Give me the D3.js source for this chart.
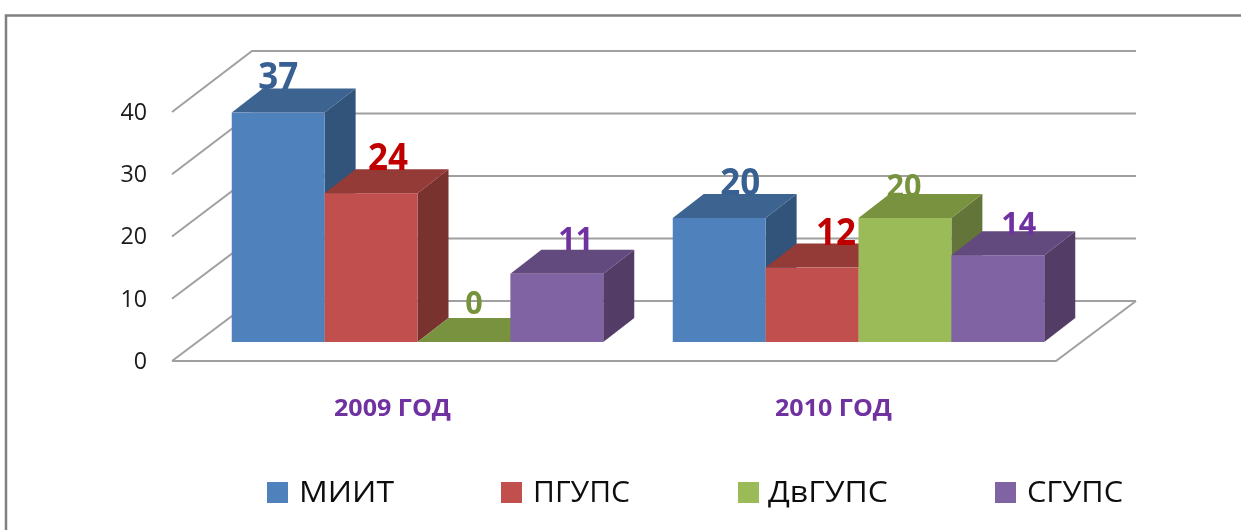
<!DOCTYPE html>
<html>
<head>
<meta charset="utf-8">
<script src="https://cdn.jsdelivr.net/npm/d3@7"></script>
<style>
  html, body { margin: 0; padding: 0; background: #fff; overflow: hidden; }
  text { font-family: "Open Sans", sans-serif; }
</style>
</head>
<body>
<div id="viz"></div>
<script>
// chart data
var years = ["2009 ГОД", "2010 ГОД"];
var schools = ["МИИТ", "ПГУПС", "ДвГУПС", "СГУПС"];
var miit = [37, 20];
var pgups = [24, 12];
var dvgups = [0, 20];
var sgups = [11, 14];
var yTicks = [0, 10, 20, 30, 40];

// colours per school
var frontColors = ["#4f81bd", "#c0504d", "#9bbb59", "#8064a2"];
var topColors = ["#3c6390", "#943a38", "#78923f", "#624a7e"];
var sideColors = ["#32527a", "#7a302e", "#647537", "#523e66"];
var labelColors = ["#376092", "#c00000", "#77933c", "#7030a0"];
var labelSizes = [37, 37, 33, 33];
var labelDigitWidth = [20, 20, 17.5, 17.5];

// the labels were dragged by hand in the original, so they need nudging: [dx, dy] per bar
var labelNudge = [
	[[0, 0], [17, 1], [10, -4], [19, 0]],
	[[21, 1], [24, 1], [-1, 3], [21, 4]]
];
var legendX = [267, 501, 738, 995];
var legendTextWidth = [95, 97, 120, 96];

var width = 1241, height = 530;
var depthX = 31, depthY = 24;

var svg = d3.select("#viz")
	.append("svg")
		.attr("width", width)
		.attr("height", height)
		.style("display", "block");

// the source is a blurry upscaled screenshot
var defs = svg.append("defs");
defs.append("filter").attr("id", "soft")
	.attr("x", 0).attr("y", 0)
	.attr("filterUnits", "userSpaceOnUse")
	.attr("width", width).attr("height", height)
	.append("feGaussianBlur").attr("stdDeviation", 0.6);

var chart = svg.append("g").attr("filter", "url(#soft)");

chart.append("rect").attr("width", width).attr("height", height).attr("fill", "#fff");

// outer frame, runs off the right and bottom edges
chart.append("path")
	.attr("d", "M6,532V15.5H1243")
	.attr("fill", "none")
	.attr("stroke", "#808080")
	.attr("stroke-width", 2.5);

// three scales for the fake 3d box: front of floor, back wall, bar front
var yFront = d3.scaleLinear().domain([0, 40]).range([361, 112]);
var yBack = d3.scaleLinear().domain([0, 40]).range([301, 51]);
var yBar = d3.scaleLinear().domain([0, 40]).range([342, 94]);

var xWall = { left: 172, back: 252, right: 1056, backRight: 1136 };

var xYear = d3.scaleBand().domain(years).range([197, 1079]);
var xSchool = d3.scaleBand().domain(schools).range([0, 371.5]);

function barLeft(yearIndex, schoolName) {
	var center = xYear(years[yearIndex]) + xYear.bandwidth() / 2;
	return center - 371.5 / 2 + xSchool(schoolName);
}

var grid = chart.append("g")
	.attr("fill", "none")
	.attr("stroke", "#a0a0a0")
	.attr("stroke-width", 2);

grid.selectAll("path.wall")
	.data(yTicks)
	.enter()
	.append("path")
		.attr("class", "wall")
		.attr("d", function (d) {
			return "M" + xWall.left + "," + yFront(d) + "L" + xWall.back + "," + yBack(d) + "H" + xWall.backRight;
		});

grid.append("path")
	.attr("d", "M" + xWall.left + "," + yFront(0) + "H" + xWall.right + "L" + xWall.backRight + "," + yBack(0));

// value axis
var yAxis = d3.axisLeft(yFront).tickValues(yTicks).tickSize(0).tickPadding(25);
var axisG = chart.append("g")
	.attr("transform", "translate(" + xWall.left + ",0)")
	.call(yAxis);
axisG.select(".domain").remove();
axisG.selectAll("text")
	.attr("fill", "#1a1a1a")
	.attr("textLength", function (d) { return String(d).length * 13.3; })
	.attr("lengthAdjust", "spacingAndGlyphs")
	.style("font-family", "'Open Sans', sans-serif")
	.style("font-size", "23px");

// flatten to one record per bar, left to right so later bars cover earlier ones
var seriesValues = [miit, pgups, dvgups, sgups];
var bars = [];
years.forEach(function (year, yi) {
	schools.forEach(function (school, si) {
		bars.push({ yi: yi, si: si, value: seriesValues[si][yi], x: barLeft(yi, school) });
	});
});

var barGroups = chart.selectAll("g.bar")
	.data(bars)
	.enter()
	.append("g")
		.attr("class", "bar");

var w = xSchool.bandwidth();

barGroups.append("path")
	.attr("fill", function (d) { return sideColors[d.si]; })
	.attr("d", function (d) {
		var x = d.x + w, y0 = yBar(0), y1 = yBar(d.value);
		return "M" + x + "," + y0 + "L" + (x + depthX) + "," + (y0 - depthY) +
			"V" + (y1 - depthY) + "L" + x + "," + y1 + "Z";
	});

barGroups.append("path")
	.attr("fill", function (d) { return topColors[d.si]; })
	.attr("d", function (d) {
		var y1 = yBar(d.value);
		return "M" + d.x + "," + y1 + "L" + (d.x + depthX) + "," + (y1 - depthY) +
			"H" + (d.x + w + depthX) + "L" + (d.x + w) + "," + y1 + "Z";
	});

barGroups.append("rect")
	.attr("fill", function (d) { return frontColors[d.si]; })
	.attr("x", function (d) { return d.x; })
	.attr("y", function (d) { return yBar(d.value); })
	.attr("width", w)
	.attr("height", function (d) { return yBar(0) - yBar(d.value); });

// data labels
chart.selectAll("text.value")
	.data(bars)
	.enter()
	.append("text")
		.attr("class", "value")
		.text(function (d) { return d.value; })
		.attr("x", function (d) { return d.x + w / 2 + labelNudge[d.yi][d.si][0]; })
		.attr("y", function (d) { return yBar(d.value) - depthY + labelNudge[d.yi][d.si][1]; })
		.attr("text-anchor", "middle")
		.attr("font-weight", 700)
		.attr("font-size", function (d) { return labelSizes[d.si]; })
		.attr("textLength", function (d) { return String(d.value).length * labelDigitWidth[d.si]; })
		.attr("lengthAdjust", "spacingAndGlyphs")
		.attr("fill", function (d) { return labelColors[d.si]; });

// category labels
chart.selectAll("text.year")
	.data(years)
	.enter()
	.append("text")
		.attr("class", "year")
		.text(function (d) { return d; })
		.attr("x", function (d) { return xYear(d) + xYear.bandwidth() / 2 - 25; })
		.attr("y", 416)
		.attr("text-anchor", "middle")
		.attr("font-weight", 700)
		.attr("font-size", 24)
		.attr("textLength", 117)
		.attr("lengthAdjust", "spacingAndGlyphs")
		.attr("fill", "#7030a0");

// legend
var legend = chart.selectAll("g.legend")
	.data(schools)
	.enter()
	.append("g")
		.attr("class", "legend")
		.attr("transform", function (d, i) { return "translate(" + legendX[i] + ",482)"; });

legend.append("rect")
	.attr("width", 21)
	.attr("height", 21)
	.attr("fill", function (d, i) { return frontColors[i]; });

legend.append("text")
	.text(function (d) { return d; })
	.attr("x", function (d, i) { return i == 2 ? 30 : 32; })
	.attr("y", 20)
	.attr("font-size", 30)
	.attr("textLength", function (d, i) { return legendTextWidth[i]; })
	.attr("lengthAdjust", "spacingAndGlyphs")
	.attr("fill", "#111");
</script>
</body>
</html>
